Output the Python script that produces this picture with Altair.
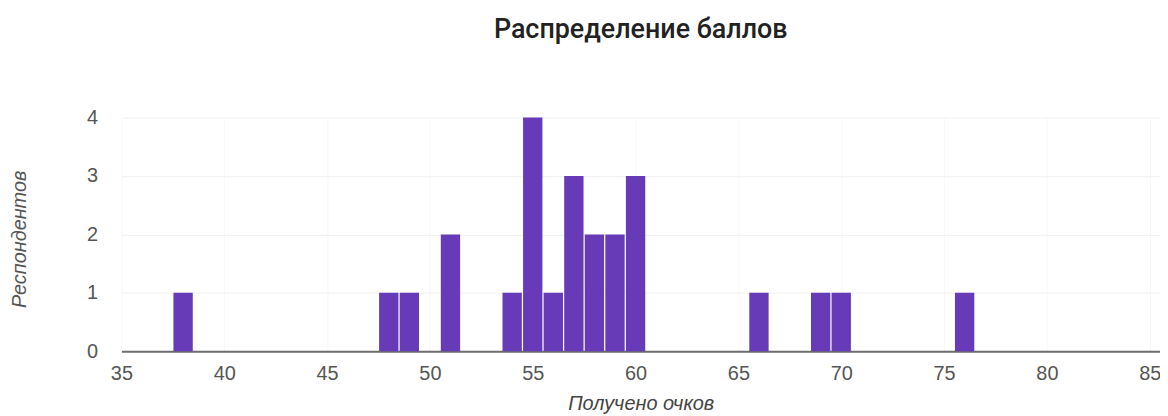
import altair as alt
import pandas as pd

scores = [38, 48, 49, 51, 54, 55, 56, 57, 58, 59, 60, 66, 69, 70, 76]
counts = [1, 1, 1, 2, 1, 4, 1, 3, 2, 2, 3, 1, 1, 1, 1]
x_ticks = [35, 40, 45, 50, 55, 60, 65, 70, 75, 80, 85]
y_ticks = [0, 1, 2, 3, 4]

df = pd.DataFrame({"score": scores, "count": counts})

chart = alt.Chart(df).transform_calculate(
    x0="datum.score - 0.47",
    x1="datum.score + 0.47",
).mark_bar(color="#673ab7").encode(
    x=alt.X(
        "x0:Q",
        scale=alt.Scale(domain=[35, 85.5], nice=False, zero=False),
        axis=alt.Axis(
            values=x_ticks,
            title="Получено очков",
            grid=True,
            gridColor="#f7f7f7",
            domainColor="#6e6e6e",
            domainWidth=2,
            ticks=False,
            labelFlush=False,
            labelFont="Liberation Sans",
            labelFontSize=20,
            labelColor="#555555",
            labelPadding=12,
            titleFont="Liberation Sans",
            titleFontSize=20,
            titleFontStyle="italic",
            titleFontWeight="normal",
            titleColor="#444444",
            titlePadding=11,
        ),
    ),
    x2="x1:Q",
    y=alt.Y(
        "count:Q",
        scale=alt.Scale(domain=[0, 4], nice=False),
        axis=alt.Axis(
            values=y_ticks,
            title="Респондентов",
            grid=True,
            gridColor="#f0f0f0",
            domain=False,
            ticks=False,
            labelFont="Liberation Sans",
            labelFontSize=20,
            labelColor="#555555",
            labelPadding=24,
            titleFont="Liberation Sans",
            titleFontSize=20,
            titleFontStyle="italic",
            titleFontWeight="normal",
            titleColor="#555555",
            titleX=-92,
            titleY=122,
        ),
    ),
    y2=alt.datum(0),
).properties(
    width=1044,
    height=235,
    title=alt.TitleParams(
        "Распределение баллов",
        font="Roboto",
        fontSize=27,
        fontWeight=500,
        color="#222222",
        anchor="middle",
        offset=64,
    ),
    autosize=alt.AutoSizeParams(type="none"),
    padding={"left": 114, "top": 109, "right": 0, "bottom": 62},
).configure_view(stroke=None)

chart.save("out.html", embed_options={"renderer": "svg", "actions": False})
